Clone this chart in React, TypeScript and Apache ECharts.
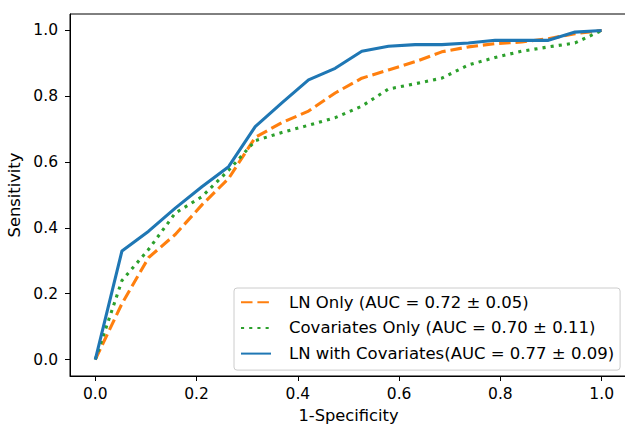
import React, { useEffect, useRef } from "react";
import * as echarts from "echarts";

const fpr = [0, 0.0526, 0.1053, 0.1579, 0.2105, 0.2632, 0.3158, 0.3684, 0.4211, 0.4737, 0.5263, 0.5789, 0.6316, 0.6842, 0.7368, 0.7895, 0.8421, 0.8947, 0.9474, 1.0];
const tprLN = [0, 0.17, 0.31, 0.38, 0.47, 0.55, 0.675, 0.72, 0.755, 0.81, 0.855, 0.88, 0.905, 0.935, 0.95, 0.96, 0.965, 0.975, 0.99, 1.0];
const tprCov = [0, 0.24, 0.335, 0.445, 0.495, 0.575, 0.665, 0.69, 0.712, 0.735, 0.77, 0.822, 0.838, 0.855, 0.895, 0.918, 0.937, 0.95, 0.962, 1.0];
const tprBoth = [0, 0.33, 0.39, 0.46, 0.525, 0.586, 0.708, 0.78, 0.85, 0.885, 0.937, 0.952, 0.957, 0.957, 0.962, 0.97, 0.97, 0.97, 0.995, 1.0];
const seriesNames = [
  "LN Only (AUC = 0.72 ± 0.05)",
  "Covariates Only (AUC = 0.70 ± 0.11)",
  "LN with Covariates(AUC = 0.77 ± 0.09)",
];
const tickValues = [0, 0.2, 0.4, 0.6, 0.8, 1.0];

const FONT = "DejaVu Sans";
const FS = 15.5;

export default function App() {
  const ref = useRef<HTMLDivElement>(null);
  useEffect(() => {
    if (!ref.current) return;
    const chart = echarts.init(ref.current, undefined, { renderer: "svg" });
    const pairs = (ys: number[]) => fpr.map((x, i) => [x, ys[i]]);
    const axisCommon = {
      type: "value" as const,
      min: -0.05,
      max: 1.05,
      splitLine: { show: false },
      axisLine: { show: true, onZero: false, lineStyle: { color: "#000", width: 1 } },
      axisTick: { show: true, customValues: tickValues, length: 5, lineStyle: { color: "#000", width: 1 } },
      axisLabel: {
        customValues: tickValues,
        formatter: (v: number) => v.toFixed(1),
        color: "#000",
        fontFamily: FONT,
        fontSize: FS,
      },
      nameLocation: "middle" as const,
      nameTextStyle: { color: "#000", fontFamily: FONT, fontSize: 16.3 },
    };
    chart.setOption({
      animation: false,
      backgroundColor: "#fff",
      grid: {
        left: 70,
        top: 14,
        width: 557,
        height: 362,
        show: true,
        borderColor: "#000",
        borderWidth: 1,
        containLabel: false,
        outerBoundsMode: "none",
      },
      xAxis: { ...axisCommon, name: "1-Specificity", nameGap: 31, axisLabel: { ...axisCommon.axisLabel, margin: 10 } },
      yAxis: { ...axisCommon, name: "Sensitivity", nameGap: 41, axisLabel: { ...axisCommon.axisLabel, margin: 12 } },
      legend: {
        data: seriesNames,
        orient: "vertical",
        left: 234,
        top: 288,
        itemWidth: 30,
        itemHeight: 16,
        itemGap: 8.7,
        padding: [5.7, 6, 8, 6],
        borderColor: "#ccc",
        borderWidth: 1,
        borderRadius: 3,
        backgroundColor: "rgba(255,255,255,0.8)",
        itemStyle: { opacity: 0 },
        textStyle: { color: "#000", fontFamily: FONT, fontSize: 16.5, lineHeight: 16, padding: [0, 0, 0, 13] },
      },
      series: [
        {
          name: seriesNames[0],
          type: "line",
          data: pairs(tprLN),
          symbol: "none",
          color: "#ff7f0e",
          lineStyle: { color: "#ff7f0e", width: 3.1, type: [11.5, 4.9] },
          z: 2,
        },
        {
          name: seriesNames[1],
          type: "line",
          data: pairs(tprCov),
          symbol: "none",
          color: "#2ca02c",
          lineStyle: { color: "#2ca02c", width: 3.1, type: [3.1, 5.1] },
          z: 3,
        },
        {
          name: seriesNames[2],
          type: "line",
          data: pairs(tprBoth),
          symbol: "none",
          color: "#1f77b4",
          lineStyle: { color: "#1f77b4", width: 3.1, type: "solid" },
          z: 4,
        },
      ],
    });
    return () => chart.dispose();
  }, []);
  return (
    <div
      ref={ref}
      style={{ position: "fixed", left: 0, top: 0, width: 625, height: 425, background: "#fff" }}
    />
  );
}
